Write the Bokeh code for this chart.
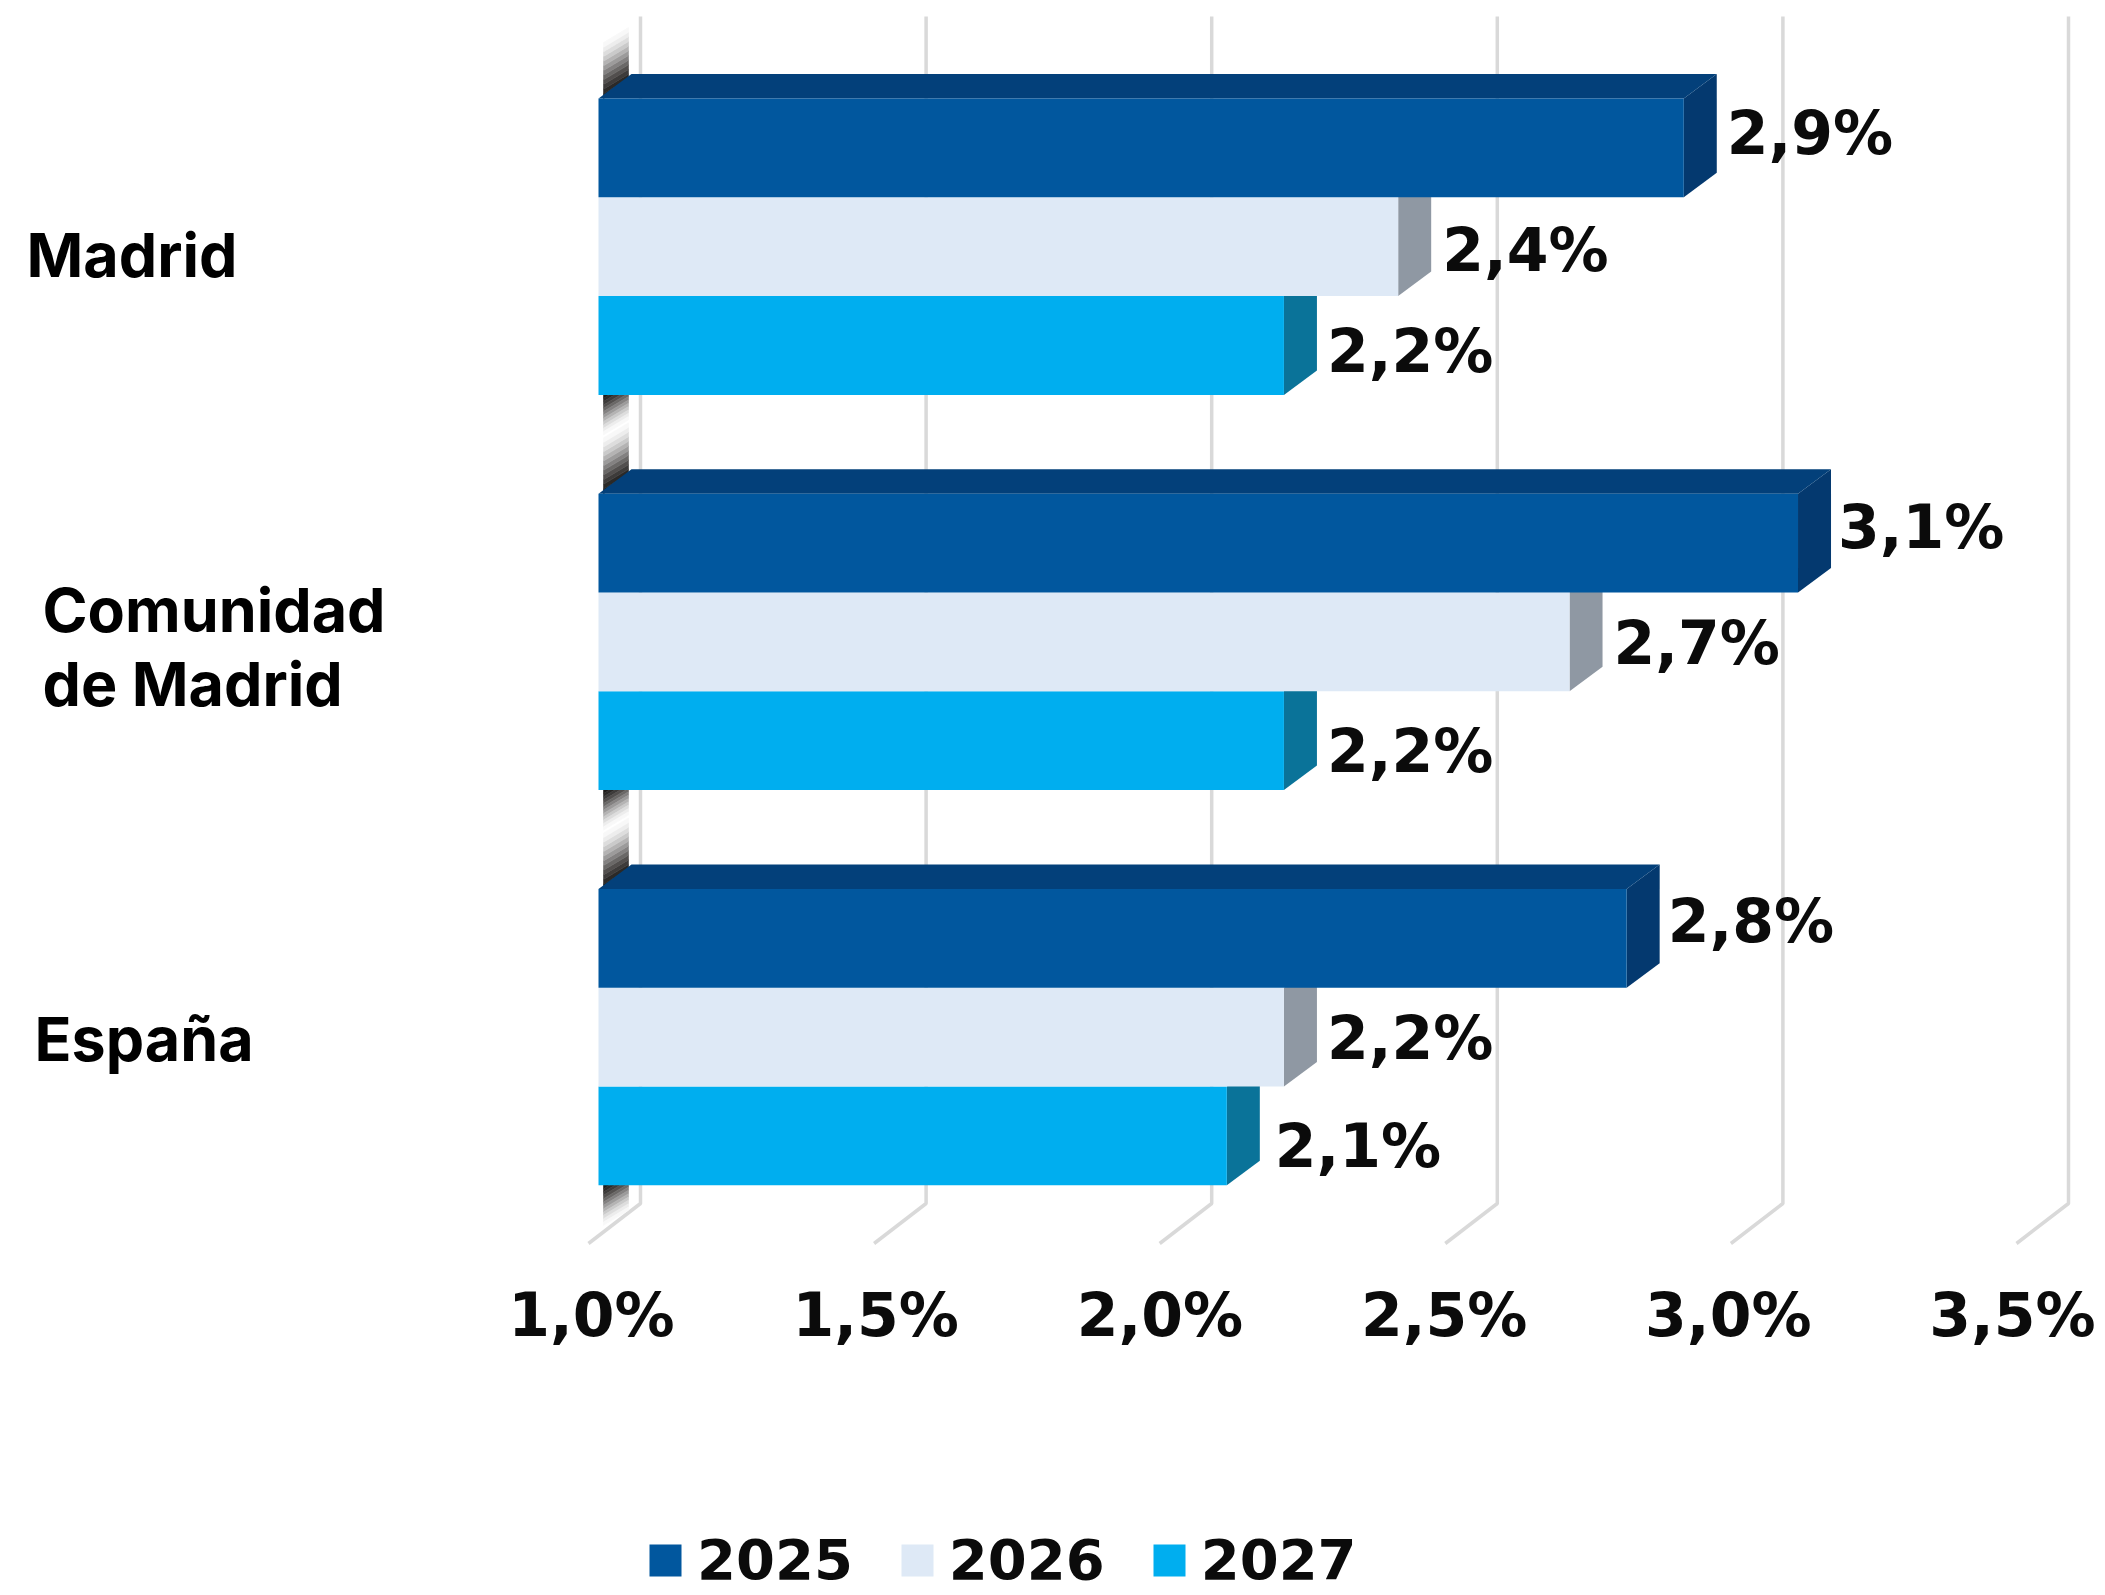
from bokeh.plotting import figure
from bokeh.models import Range1d, LinearAxis, FixedTicker, Legend, LegendItem, ColumnDataSource
from bokeh.core.properties import value
from bokeh.embed import file_html
from bokeh.resources import INLINE

categories = ["Madrid", "Comunidad\nde Madrid", "España"]
years = ["2025", "2026", "2027"]
values_2025 = [2.9, 3.1, 2.8]
values_2026 = [2.4, 2.7, 2.2]
values_2027 = [2.2, 2.2, 2.1]
axis_ticks = [1.0, 1.5, 2.0, 2.5, 3.0, 3.5]
axis_labels = ["1,0%", "1,5%", "2,0%", "2,5%", "3,0%", "3,5%"]
series = [values_2025, values_2026, values_2027]

# style
FRONT = ["#01579E", "#DEE9F6", "#00AEEF"]
SIDE = ["#04396F", "#8F98A3", "#0A7399"]
TOP = "#03407A"
GRID = "#D9D9D9"
INK = "#0b0b0b"
SHADES = ["#1c1a18", "#2b2927", "#3d3b3a", "#524f4e", "#6a6867", "#838181", "#9c9b9b",
          "#b4b3b3", "#cacaca", "#dddddd", "#ededed", "#f8f8f8"]
W, H = 2105, 1595
PX_PER_PCT = 571.2
PX_PER_ROW = 98.8
X0_PAGE, Y0_PAGE = 598, 98          # where 1,0% and the first bar's top fall on the page
DX, DY = 33 / PX_PER_PCT, 24.5 / PX_PER_ROW   # bar depth
BACK = 42 / PX_PER_PCT              # bar front to back wall
FLOOR_X, FLOOR_Y = 52 / PX_PER_PCT, 40 / PX_PER_ROW
GROUP_ROWS = 4

x_start = 1 - X0_PAGE / PX_PER_PCT
y_start = -Y0_PAGE / PX_PER_ROW
p = figure(width=W, height=H, output_backend="svg", toolbar_location=None,
           x_range=Range1d(x_start, x_start + W / PX_PER_PCT),
           y_range=Range1d(y_start + H / PX_PER_ROW, y_start),
           x_axis_location=None, y_axis_location=None, min_border=0,
           outline_line_color=None, background_fill_color="white", border_fill_color="white")
p.grid.visible = False

# gridlines: back wall + floor
grid_top = y_start + 16 / PX_PER_ROW
grid_bend = (1203 - Y0_PAGE) / PX_PER_ROW
p.multi_line(xs=[[v + BACK, v + BACK, v + BACK - FLOOR_X] for v in axis_ticks],
             ys=[[grid_top, grid_bend, grid_bend + FLOOR_Y] for _ in axis_ticks],
             line_color=GRID, line_width=3.5)

# gradient dashes of the axis wall, in the gaps between the groups
bl, br = 1 + 5 / PX_PER_PCT, 1 + 30 / PX_PER_PCT
slant = 15 / PX_PER_ROW
n = len(SHADES)
bxs, bys, bcs = [], [], []
for g in range(3):
    down0 = GROUP_ROWS * g + 3
    up1 = GROUP_ROWS * g
    for i, c in enumerate(SHADES):
        a = down0 + 40 / PX_PER_ROW * i / n
        b = down0 + 40 / PX_PER_ROW * (i + 1) / n
        lift = 0.3 if i == 0 else 0
        bxs.append([bl, br, br, bl]); bys.append([a - lift, a - lift - slant, b - slant, b]); bcs.append(c)
        a = up1 - 56 / PX_PER_ROW * (i + 1) / n
        b = up1 - 56 / PX_PER_ROW * i / n
        bxs.append([bl, br, br, bl]); bys.append([a, a - slant, b - slant, b]); bcs.append(c)
p.patches(xs=bxs, ys=bys, fill_color=bcs, line_color=bcs, line_width=0.6)

# bars, back to front: 2027, 2026, 2025
renderers = {}
for s in [2, 1, 0]:
    vals = series[s]
    rows = [GROUP_ROWS * g + s + 0.5 for g in range(3)]
    p.patches(xs=[[v, v + DX, v + DX, v] for v in vals],
              ys=[[r - 0.5, r - 0.5 - DY, r + 0.5 - DY, r + 0.5] for r in rows],
              fill_color=SIDE[s], line_color=None)
    if s == 0:
        p.patches(xs=[[1, 1 + DX, v + DX, v] for v in vals],
                  ys=[[r - 0.5, r - 0.5 - DY, r - 0.5 - DY, r - 0.5] for r in rows],
                  fill_color=TOP, line_color=None)
    renderers[s] = p.hbar(y=rows, left=1, right=vals, height=1, fill_color=FRONT[s], line_color=None)

# data labels
LABEL_DX = [[43, 44, 43], [40, 44, 43], [41, 43, 48]]
LABEL_DY = [[-15, 3, 5], [-16, 1, 10], [-17, 1, 10]]
lx, ly, lt, ldx, ldy = [], [], [], [], []
for s in range(3):
    for g in range(3):
        lx.append(series[s][g]); ly.append(GROUP_ROWS * g + s + 0.5)
        lt.append(f"{series[s][g]:.1f}".replace(".", ",") + "%")
        ldx.append(LABEL_DX[g][s]); ldy.append(LABEL_DY[g][s])
p.text(x="x", y="y", text="t", y_offset="dy", x_offset="dx",
       source=ColumnDataSource(dict(x=lx, y=ly, t=lt, dx=ldx, dy=ldy)),
       text_font=value("DejaVu Sans"), text_font_style="bold", text_font_size="60px",
       text_color=INK, text_align="left", text_baseline="middle")

# category labels
CAT_X = [26, 42, 34]
CAT_DY = [8, 5, 2]
p.text(x=[x_start] * 3, y=[GROUP_ROWS * g + 1.5 for g in range(3)], text=categories,
       x_offset=CAT_X, y_offset=CAT_DY,
       text_font=value("Inter"), text_font_style="bold", text_font_size="61px",
       text_color="#000000", text_align="left", text_baseline="middle", text_line_height=1.0)

# value axis, on a range of its own as its labels sit on the front edge of the floor
lab_per_pct = 568.4
a_start = 1 - 591 / lab_per_pct
p.extra_x_ranges["labels"] = Range1d(a_start, a_start + W / lab_per_pct)
axis = LinearAxis(x_range_name="labels", fixed_location=(1271 - Y0_PAGE) / PX_PER_ROW,
                  ticker=FixedTicker(ticks=axis_ticks),
                  major_label_overrides={t: l for t, l in zip(axis_ticks, axis_labels)},
                  axis_line_color=None, major_tick_line_color=None, minor_tick_line_color=None,
                  major_label_text_font="DejaVu Sans", major_label_text_font_style="bold",
                  major_label_text_font_size="60px", major_label_text_color=INK,
                  major_label_standoff=2)
p.add_layout(axis, "below")

legend = Legend(items=[LegendItem(label=y, renderers=[renderers[i]]) for i, y in enumerate(years)],
                orientation="horizontal", location=(645, 3),
                border_line_color=None, background_fill_alpha=0, margin=0, padding=0,
                glyph_width=40, glyph_height=40, label_standoff=12, spacing=44,
                label_text_font="DejaVu Sans", label_text_font_style="bold",
                label_text_font_size="56px", label_text_color=INK)
p.add_layout(legend, "center")

open("out.html", "w").write(file_html(p, INLINE))
